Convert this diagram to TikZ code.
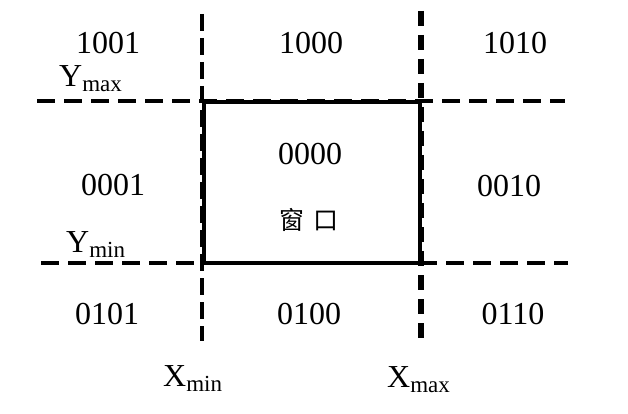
\documentclass[tikz,border=0pt]{standalone}
\usepackage{fontspec}
\setmainfont{Liberation Serif}
\newfontfamily\cjk{Noto Sans CJK SC}
\begin{document}
\begin{tikzpicture}[x=1pt,y=-1pt,
  lbl/.style={inner sep=0pt,font=\fontsize{32}{32}\selectfont},
  hdash/.style={line width=4pt,dash pattern=on 18pt off 9pt},
  vdash/.style={line width=4.5pt,dash pattern=on 17pt off 7pt},
  vdashthick/.style={line width=6.5pt,dash pattern=on 15pt off 9pt},
  winbox/.style={line width=4pt}]
\newcommand{\subtxt}[1]{\lower5pt\hbox{\fontsize{23}{23}\selectfont #1}}
\useasboundingbox (0,0) rectangle (628,414);
% coordinates
\coordinate (vlT) at (202,14);
\coordinate (vlB) at (202,341);
\coordinate (vrT) at (421,11);
\coordinate (vrB) at (421,338);
\coordinate (htL) at (37,101);
\coordinate (htR) at (565,101);
\coordinate (hbL) at (41,263);
\coordinate (hbR) at (568,263);
\coordinate (wNW) at (204,102);
\coordinate (wSE) at (420,263);
% dashed lines
\draw[vdash] (vlT) -- (vlB);
\draw[vdashthick] (vrT) -- (vrB);
\draw[hdash] (htL) -- (htR);
\draw[hdash] (hbL) -- (hbR);
% window
\draw[winbox] (wNW) rectangle (wSE);
% region codes
\node[lbl] (c1001) at (108,43) {1001};
\node[lbl] (c1000) at (311,43) {1000};
\node[lbl] (c1010) at (515,43) {1010};
\node[lbl] (c0001) at (113,185) {0001};
\node[lbl] (c0000) at (310,154) {0000};
\node[lbl] (c0010) at (509,186) {0010};
\node[lbl] (c0101) at (107,314) {0101};
\node[lbl] (c0100) at (309,314) {0100};
\node[lbl] (c0110) at (513,314) {0110};
\node[inner sep=0pt,font=\fontsize{25}{25}\selectfont] (win) at (309,220) {{\cjk 窗}\hspace{9pt}{\cjk 口}};
% axis labels
\node[lbl,anchor=base west] (ymax) at (59,87) {Y\subtxt{max}};
\node[lbl,anchor=base west] (ymin) at (66,252) {Y\subtxt{min}};
\node[lbl,anchor=base west] (xmin) at (163,386) {X\subtxt{min}};
\node[lbl,anchor=base west] (xmax) at (387,387) {X\subtxt{max}};
\end{tikzpicture}
\end{document}
